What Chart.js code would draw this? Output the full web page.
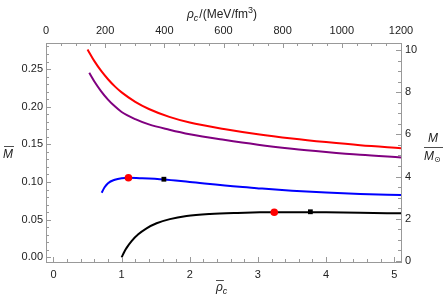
<!DOCTYPE html>
<html lang="en">
<head>
<meta charset="UTF-8">
<title>Mass vs central density</title>
<script src="https://cdn.jsdelivr.net/npm/chart.js"></script>
<style>
  html, body { margin: 0; padding: 0; background: #fff; }
  #wrap { width: 444px; height: 303px; }
</style>
</head>
<body>
<div id="wrap"><canvas id="massChart" width="444" height="303"></canvas></div>
<script>
// values (rho_c bar, M bar)
const redX = [0.50, 0.60, 0.70, 0.80, 0.90, 1.00, 1.20, 1.40, 1.70, 2.00, 2.50, 3.00, 3.50, 4.00, 4.50, 5.10];
const redY = [0.276, 0.2605, 0.2475, 0.2365, 0.227, 0.219, 0.2065, 0.197, 0.1865, 0.179, 0.1705, 0.1635, 0.1578, 0.153, 0.1488, 0.145];

const purpleX = [0.525, 0.60, 0.70, 0.80, 0.90, 1.00, 1.20, 1.40, 1.70, 2.00, 2.50, 3.00, 3.50, 4.00, 4.50, 5.10];
const purpleY = [0.245, 0.2335, 0.2205, 0.2095, 0.2005, 0.193, 0.1835, 0.1765, 0.1695, 0.1635, 0.156, 0.1495, 0.1443, 0.140, 0.1362, 0.1327];

const blueX = [0.707, 0.75, 0.80, 0.90, 1.00, 1.10, 1.30, 1.62, 2.00, 2.73, 3.03, 3.50, 4.00, 4.50, 5.10];
const blueY = [0.0857, 0.093, 0.0985, 0.1030, 0.1050, 0.1056, 0.1050, 0.1034, 0.1000, 0.0936, 0.0915, 0.0885, 0.0860, 0.0842, 0.0826];

const blackX = [1.00, 1.04, 1.073, 1.146, 1.244, 1.366, 1.513, 1.708, 1.953, 2.295, 2.70, 3.03, 3.50, 4.00, 4.50, 5.10];
const blackY = [0.000, 0.0075, 0.0125, 0.0215, 0.0305, 0.0385, 0.0452, 0.0507, 0.0548, 0.0575, 0.0590, 0.0597, 0.0600, 0.0597, 0.0592, 0.0584];

// markers
const dotX = [1.10, 3.24];
const dotY = [0.1056, 0.0598];
const squareX = [1.62, 3.77];
const squareY = [0.1037, 0.0605];

// tick labels
const bottomTicks = [0, 1, 2, 3, 4, 5];
const topTicks = [0, 200, 400, 600, 800, 1000, 1200];
const leftTicks = [0, 0.05, 0.10, 0.15, 0.20, 0.25];
const rightTicks = [0, 2, 4, 6, 8, 10];

const pts = (xs, ys) => xs.map((x, i) => ({ x: x, y: ys[i] }));

const frameColor = '#999';
const labelColor = '#222';
Chart.defaults.font.family = '"Liberation Sans", Arial, sans-serif';
Chart.defaults.font.size = 11;
Chart.defaults.color = labelColor;

// Mathematica style frame ticks, pointing inward
const minorSteps = { x: [1, 0.2], x2: [200, 50], y: [0.05, 0.01], y2: [2, 0.5] };
const frameTicks = {
  id: 'frameTicks',
  afterDatasetsDraw(chart) {
    const ctx = chart.ctx;
    const a = chart.chartArea;
    ctx.save();
    ctx.strokeStyle = frameColor;
    ctx.lineWidth = 1;
    Object.keys(minorSteps).forEach(id => {
      const s = chart.scales[id];
      const [major, minor] = minorSteps[id];
      const start = Math.ceil(s.min / minor - 1e-6);
      for (let k = start; k * minor <= s.max + 1e-9; k++) {
        const v = k * minor;
        const isMajor = Math.abs(v / major - Math.round(v / major)) < 1e-6;
        const len = isMajor ? 5 : 3;
        const p = Math.round(s.getPixelForValue(v)) + 0.5;
        ctx.beginPath();
        if (id === 'x') { ctx.moveTo(p, a.bottom); ctx.lineTo(p, a.bottom - len); }
        if (id === 'x2') { ctx.moveTo(p, a.top); ctx.lineTo(p, a.top + len); }
        if (id === 'y') { ctx.moveTo(a.left, p); ctx.lineTo(a.left + len, p); }
        if (id === 'y2') { ctx.moveTo(a.right, p); ctx.lineTo(a.right - len, p); }
        ctx.stroke();
      }
    });
    ctx.restore();
  },
  afterDraw(chart) {
    const ctx = chart.ctx;
    ctx.save();
    ctx.fillStyle = labelColor;
    ctx.strokeStyle = labelColor;
    ctx.textBaseline = 'alphabetic';
    const it = '12px "Liberation Sans", Arial, sans-serif';

    // top title: rho_c /(MeV/fm^3)
    let x = 187, y = 18;
    ctx.font = 'italic ' + it; ctx.fillText('\u03c1', x, y); x += ctx.measureText('\u03c1').width;
    ctx.font = 'italic 9px "Liberation Sans", Arial, sans-serif'; ctx.fillText('c', x, y + 3); x += ctx.measureText('c').width + 1;
    ctx.font = it; ctx.fillText('/(MeV/fm', x, y); x += ctx.measureText('/(MeV/fm').width;
    ctx.font = '9px "Liberation Sans", Arial, sans-serif'; ctx.fillText('3', x, y - 5); x += ctx.measureText('3').width;
    ctx.font = it; ctx.fillText(')', x, y);

    // bottom title: rho bar c
    x = 216; y = 291;
    ctx.font = 'italic ' + it; ctx.fillText('\u03c1', x, y);
    const rw = ctx.measureText('\u03c1').width;
    ctx.beginPath(); ctx.moveTo(x, y - 10.5); ctx.lineTo(x + rw + 1, y - 10.5); ctx.lineWidth = 0.8; ctx.stroke();
    ctx.font = 'italic 9px "Liberation Sans", Arial, sans-serif'; ctx.fillText('c', x + rw, y + 3);

    // left title: M bar
    x = 3; y = 158;
    ctx.font = 'italic ' + it; ctx.fillText('M', x, y);
    const mw = ctx.measureText('M').width;
    ctx.beginPath(); ctx.moveTo(x + 1, y - 11.5); ctx.lineTo(x + mw + 1, y - 11.5); ctx.stroke();

    // right title: M / M_sun
    ctx.textAlign = 'center';
    ctx.fillText('M', 433, 142);
    ctx.beginPath(); ctx.moveTo(424, 147.5); ctx.lineTo(443, 147.5); ctx.stroke();
    ctx.textAlign = 'left';
    ctx.fillText('M', 424, 160);
    ctx.font = '8px "DejaVu Sans", sans-serif';
    ctx.fillText('\u2299', 434, 162);
    ctx.restore();
  }
};

const lineSet = (label, xs, ys, color) => ({
  label: label,
  data: pts(xs, ys),
  showLine: true,
  borderColor: color,
  backgroundColor: color,
  borderWidth: 2,
  pointRadius: 0,
  cubicInterpolationMode: 'monotone',
  order: 2
});

const axisBase = (pos, size, pad) => ({
  position: pos,
  grid: { display: false, drawTicks: false },
  border: { display: true, color: frameColor, width: 1 },
  ticks: { padding: pad, color: labelColor, maxRotation: 0, callback: v => String(v) },
  afterFit(s) { if (pos === 'top' || pos === 'bottom') s.height = size; else s.width = size; }
});

const setTicks = vals => s => { s.ticks = vals.map(v => ({ value: v })); };

new Chart(document.getElementById('massChart'), {
  type: 'scatter',
  data: {
    datasets: [
      { label: 'max', data: pts(dotX, dotY), pointStyle: 'circle', pointRadius: 3.8,
        backgroundColor: '#ff0000', borderWidth: 0, order: 0 },
      { label: 'sq', data: pts(squareX, squareY), pointStyle: 'rect', pointRadius: 3.4,
        backgroundColor: '#000', borderWidth: 0, order: 0 },
      lineSet('red', redX, redY, '#ff0000'),
      lineSet('purple', purpleX, purpleY, '#800080'),
      lineSet('blue', blueX, blueY, '#0000ff'),
      lineSet('black', blackX, blackY, '#000000')
    ]
  },
  options: {
    responsive: false,
    animation: false,
    devicePixelRatio: 1,
    layout: { padding: 0 },
    plugins: { legend: { display: false }, tooltip: { enabled: false } },
    scales: {
      x: Object.assign(axisBase('bottom', 41, 6), {
        type: 'linear', min: -0.11, max: 5.1, afterBuildTicks: setTicks(bottomTicks)
      }),
      x2: Object.assign(axisBase('top', 43, 5), {
        type: 'linear', min: 0, max: 1200, afterBuildTicks: setTicks(topTicks)
      }),
      y: Object.assign(axisBase('left', 46, 3), {
        type: 'linear', min: -0.0062, max: 0.2846, afterBuildTicks: setTicks(leftTicks),
        ticks: { padding: 3, color: labelColor, callback: v => v.toFixed(2) }
      }),
      y2: Object.assign(axisBase('right', 43, 4), {
        type: 'linear', min: -0.048, max: 10.33, afterBuildTicks: setTicks(rightTicks)
      })
    }
  },
  plugins: [frameTicks]
});
</script>
</body>
</html>
